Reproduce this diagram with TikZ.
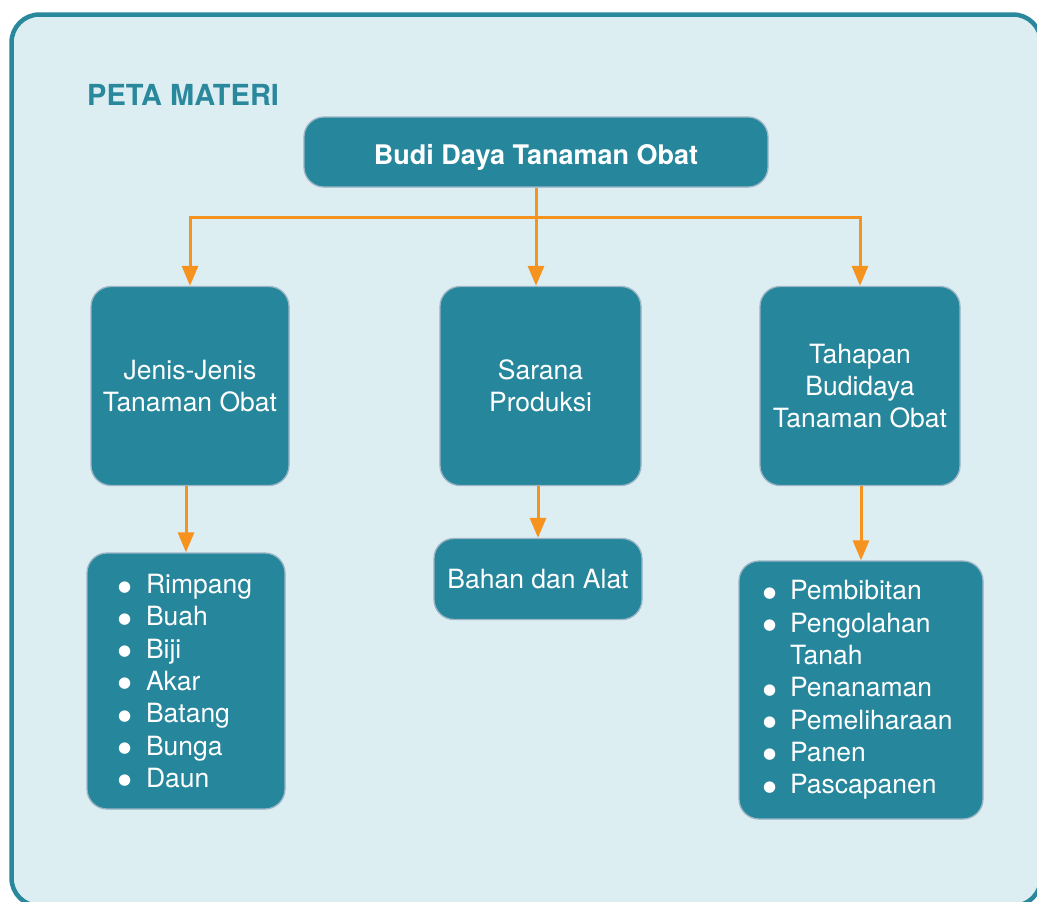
\documentclass[tikz,border=0pt]{standalone}
\usepackage{fontspec}
\setmainfont{TeX Gyre Heros}
\newfontfamily\simbol{DejaVu Sans}
\usetikzlibrary{arrows.meta}

\definecolor{bingkai}{HTML}{2A889D}
\definecolor{latar}{HTML}{DDEEF2}
\definecolor{isi}{HTML}{26869C}
\definecolor{tepi}{HTML}{9AB5C4}
\definecolor{jingga}{HTML}{F6921E}

\newcommand{\titik}{\raisebox{2.5pt}{\simbol\fontsize{15}{15}\selectfont ●}}
\newcommand{\butir}[2][27pt]{\makebox[#1][l]{\titik}#2}

\begin{document}
\begin{tikzpicture}[x=1pt, y=-1pt]

\tikzset{box/.style = {draw=tepi, line width=1.3pt, fill=isi, rounded corners=20pt, text=white, align=center, inner sep=0pt, font=\fontsize{26.5}{32.3}\selectfont}}
\tikzset{edge/.style = {->, > = {Triangle[length=20pt, width=16pt]}, draw=jingga, line width=3pt}}

\useasboundingbox (0,0) rectangle (1037,902);
\draw[bingkai, fill=latar, line width=4.5pt, rounded corners=28pt] (11.5,14.5) rectangle (1041,906);

% boxes
\node[anchor=base west, inner sep=0pt, text=bingkai, font=\bfseries\fontsize{29}{29}\selectfont] (judul) at (87,105) {PETA MATERI};
\node[box, minimum width=464pt, minimum height=70pt, text height=25pt, text depth=0pt, font=\bfseries\fontsize{27}{30}\selectfont] (budidaya) at (536,152) {Budi Daya Tanaman Obat};

\node[box, minimum width=198pt, minimum height=199pt] (jenis) at (190,386) {Jenis-Jenis\\Tanaman Obat};
\node[box, minimum width=201pt, minimum height=199pt] (sarana) at (540.5,386) {Sarana\\Produksi};
\node[box, minimum width=200pt, minimum height=199pt] (tahapan) at (860,386) {Tahapan\\Budidaya\\Tanaman Obat};

\node[box, minimum width=198pt, minimum height=256pt, text width=136pt, align=left] (bagian) at (186,681)
  {\butir[28pt]{Rimpang}\\\butir[28pt]{Buah}\\\butir[28pt]{Biji}\\\butir[28pt]{Akar}\\\butir[28pt]{Batang}\\\butir[28pt]{Bunga}\\\butir[28pt]{Daun}};
\node[box, minimum width=208pt, minimum height=81pt] (alat) at (538,579) {Bahan dan Alat};
\node[box, minimum width=244pt, minimum height=258pt, text width=196pt, align=left] (langkah) at (861,690)
  {\butir{Pembibitan}\\\butir{Pengolahan}\\\hspace*{27pt}Tanah\\\butir{Penanaman}\\\butir{Pemeliharaan}\\\butir{Panen}\\\butir{Pascapanen}};

%edges
\coordinate (garis) at (0,217);
\coordinate (cabang) at (budidaya.south |- garis);
\draw [edge, -] (budidaya.south) -- (cabang);
\draw [edge] (cabang) -| (jenis.north);
\draw [edge] (cabang) -- (cabang |- sarana.north);
\draw [edge] (cabang) -| (tahapan.north);
\draw [edge] (bagian.north |- jenis.south) -- (bagian.north);
\draw [edge] (alat.north |- sarana.south) -- (alat.north);
\draw [edge] (langkah.north |- tahapan.south) -- (langkah.north);

\end{tikzpicture}
\end{document}
